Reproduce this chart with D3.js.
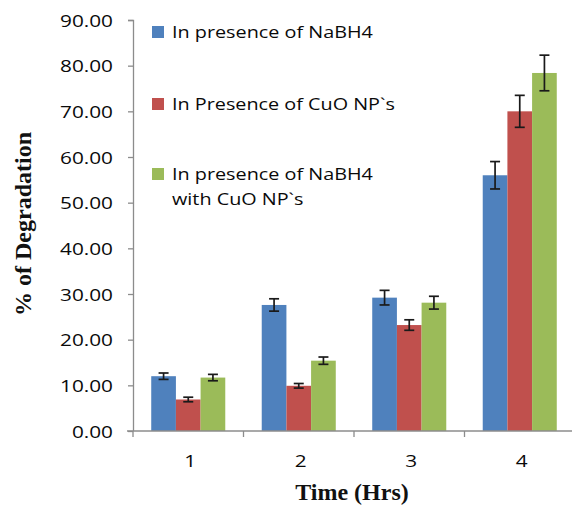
<!DOCTYPE html>
<html>
<head>
<meta charset="utf-8">
<script src="https://cdn.jsdelivr.net/npm/d3@7"></script>
<style>
  body { margin: 0; background: #fff; }
  svg { display: block; }
</style>
</head>
<body>
<div id="chart"></div>
<script>
// chart data
const categories = ['1', '2', '3', '4'];
const seriesNames = ['In presence of NaBH4', 'In Presence of CuO NP`s', 'In presence of NaBH4 with CuO NP`s'];
const nabh4 = [12.0, 27.6, 29.2, 56.0];
const cuo = [6.9, 9.9, 23.2, 70.0];
const nabh4Cuo = [11.7, 15.4, 28.1, 78.4];
const nabh4Err = [0.7, 1.35, 1.6, 3.0];
const cuoErr = [0.5, 0.5, 1.15, 3.5];
const nabh4CuoErr = [0.7, 0.8, 1.4, 3.9];
const yTicks = [0, 10, 20, 30, 40, 50, 60, 70, 80, 90];

const colors = ['#4f81bd', '#c0504d', '#9bbb59'];
const values = [nabh4, cuo, nabh4Cuo];
const errors = [nabh4Err, cuoErr, nabh4CuoErr];

const width = 572, height = 510;
const margin = { top: 20, right: -3, bottom: 79, left: 133 };
const plotW = width - margin.left - margin.right;
const plotH = height - margin.top - margin.bottom;

const svg = d3.select('#chart').append('svg')
    .attr('width', width)
    .attr('height', height);

const g = svg.append('g')
    .attr('transform', 'translate(' + margin.left + ',' + margin.top + ')');

// scales
const x0 = d3.scaleBand()
    .domain(categories)
    .range([0, plotW])
    .paddingInner(0.33)
    .paddingOuter(0.165);

const x1 = d3.scaleBand()
    .domain(d3.range(seriesNames.length))
    .range([0, x0.bandwidth()]);

const y = d3.scaleLinear()
    .domain([0, 90])
    .range([plotH, 0]);

const tickFont = '"Open Sans", sans-serif';
const axisColor = '#8c8c8c';
const textColor = '#0a0a0a';

// bars
categories.forEach((cat, i) => {
    const grp = g.append('g').attr('transform', 'translate(' + x0(cat) + ',0)');
    values.forEach((vals, s) => {
        grp.append('rect')
            .attr('x', x1(s))
            .attr('y', y(vals[i]))
            .attr('width', x1.bandwidth())
            .attr('height', y(0) - y(vals[i]))
            .attr('fill', colors[s]);
    });
});

// error bars
categories.forEach((cat, i) => {
    values.forEach((vals, s) => {
        const cx = x0(cat) + x1(s) + x1.bandwidth() / 2;
        const hi = y(vals[i] + errors[s][i]);
        const lo = y(vals[i] - errors[s][i]);
        const eb = g.append('g').attr('stroke', '#1a1a1a').attr('stroke-width', 1.7);
        eb.append('line').attr('x1', cx).attr('x2', cx).attr('y1', hi).attr('y2', lo);
        eb.append('line').attr('x1', cx - 5).attr('x2', cx + 5).attr('y1', hi).attr('y2', hi);
        eb.append('line').attr('x1', cx - 5).attr('x2', cx + 5).attr('y1', lo).attr('y2', lo);
    });
});

// y axis
const yAxis = g.append('g')
    .call(d3.axisLeft(y).tickValues(yTicks).tickSize(5).tickPadding(0).tickFormat(d3.format('.2f')));
yAxis.select('.domain').attr('stroke', axisColor).attr('stroke-width', 1.3).attr('d', 'M-5,0.5H0.5V' + plotH);
yAxis.selectAll('.tick line').attr('stroke', axisColor).attr('stroke-width', 1.3);
yAxis.selectAll('.tick text').remove();
yAxis.selectAll('.tick').append('g')
    .attr('transform', 'translate(-20,6) scale(1.26,1)')
    .append('text')
    .attr('text-anchor', 'end')
    .attr('font-family', tickFont)
    .attr('font-size', 16.5)
    .attr('fill', textColor)
    .text(d => d3.format('.2f')(d));

// x axis with ticks at category boundaries
const xa = g.append('g').attr('transform', 'translate(0,' + plotH + ')');
xa.append('line')
    .attr('x1', -6).attr('x2', plotW)
    .attr('stroke', axisColor).attr('stroke-width', 1.3);
const step = x0.step();
d3.range(categories.length + 1).forEach(k => {
    xa.append('line')
        .attr('x1', k * step).attr('x2', k * step)
        .attr('y1', 0).attr('y2', 6)
        .attr('stroke', axisColor).attr('stroke-width', 1.3);
});
categories.forEach(cat => {
    xa.append('g')
        .attr('transform', 'translate(' + (x0(cat) + x0.bandwidth() / 2 + 2) + ',36) scale(1.26,1)')
        .append('text')
        .attr('text-anchor', 'middle')
        .attr('font-family', tickFont)
        .attr('font-size', 16.5)
        .attr('fill', textColor)
        .text(cat);
});

// axis titles
svg.append('text')
    .attr('x', 352)
    .attr('y', 500)
    .attr('text-anchor', 'middle')
    .attr('font-family', '"Liberation Serif", serif')
    .attr('font-weight', 'bold')
    .attr('font-size', 24)
    .attr('fill', '#111')
    .text('Time (Hrs)');

svg.append('text')
    .attr('transform', 'translate(31,224) rotate(-90)')
    .attr('text-anchor', 'middle')
    .attr('font-family', '"Liberation Serif", serif')
    .attr('font-weight', 'bold')
    .attr('font-size', 24)
    .attr('fill', '#111')
    .text('% of Degradation');

// legend
const legendRows = [
    { lines: ['In presence of NaBH4'], y: 38 },
    { lines: ['In Presence of CuO NP`s'], y: 110 },
    { lines: ['In presence of NaBH4', 'with CuO NP`s'], y: 180 }
];
const legend = svg.append('g');
legendRows.forEach((row, s) => {
    legend.append('rect')
        .attr('x', 152)
        .attr('y', row.y - 12)
        .attr('width', 12)
        .attr('height', 12)
        .attr('fill', colors[s]);
    row.lines.forEach((line, j) => {
        legend.append('g')
            .attr('transform', 'translate(172,' + (row.y + j * 25) + ') scale(1.2,1)')
            .append('text')
            .attr('font-family', tickFont)
            .attr('font-size', 16.5)
            .attr('fill', textColor)
            .text(line);
    });
});
</script>
</body>
</html>
